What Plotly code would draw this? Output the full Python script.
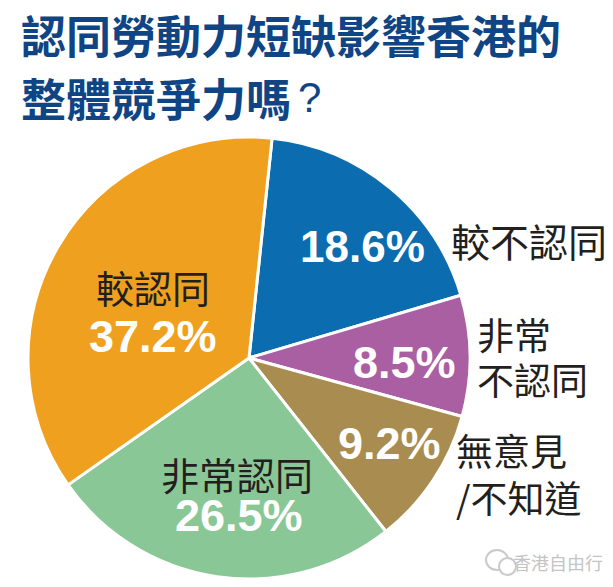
import plotly.graph_objects as go

categories = ["較不認同", "非常不認同", "無意見/不知道", "非常認同", "較認同"]
# printed percentages
values = [18.6, 8.5, 9.2, 26.5, 37.2]
# slice sizes, the drawn wedges differ a bit from the printed numbers
slice_sizes = [18.75, 8.85, 10.1, 25.9, 36.4]
colors = ["#0b6cb0", "#ab5fa3", "#a98c50", "#8ac796", "#f0a01f"]
title_line1 = "認同勞動力短缺影響香港的"
title_line2 = "整體競爭力嗎"
watermark = "香港自由行"

cjk = "Noto Sans CJK TC"
latin = "Liberation Sans"
# the page body keeps an 8px margin, so the figure starts at 8,8
PAGE = 8
W, H = 613 - PAGE, 587 - PAGE


def px_x(x):
    return (x - PAGE) / W


def px_y(y):
    return 1 - (y - PAGE) / H


# annotation placed in picture pixels (top-left origin)
def put(fig, x, y, text, size, color="#231f20", family=cjk, anchor="center"):
    if family == cjk:
        y -= 3  # CJK glyphs sit low in their line box
    fig.add_annotation(x=px_x(x), y=px_y(y), xref="paper", yref="paper", text=text,
                       showarrow=False, xanchor=anchor, yanchor="middle", align="left",
                       font=dict(size=size, color=color, family=family))


fig = go.Figure()
fig.add_trace(go.Pie(
    values=slice_sizes,
    labels=categories,
    sort=False,
    direction="clockwise",
    rotation=6,
    marker=dict(colors=colors, line=dict(color="white", width=3)),
    textinfo="none",
    domain=dict(x=[px_x(28), px_x(470)], y=[px_y(579), px_y(137)]),
    showlegend=False,
))

fig.update_layout(
    width=W,
    height=H,
    margin=dict(l=0, r=0, t=0, b=0),
    paper_bgcolor="white",
    font=dict(family=cjk),
)

# title
put(fig, 19, 38, f"<b>{title_line1}</b>", 45, "#0f4585", anchor="left")
put(fig, 19, 100, f"<b>{title_line2}</b>", 45, "#0f4585", anchor="left")
put(fig, 296, 97, "?", 42, "#0f4585", latin, anchor="left")

# percentages inside the slices
put(fig, 362, 246, f"<b>{values[0]}%</b>", 44, "white", latin)
put(fig, 405, 362, f"<b>{values[1]}%</b>", 45, "white", latin)
put(fig, 389, 443, f"<b>{values[2]}%</b>", 45, "white", latin)
put(fig, 239, 515, f"<b>{values[3]}%</b>", 45, "white", latin)
put(fig, 153, 336, f"<b>{values[4]}%</b>", 45, "white", latin)

# category names
put(fig, 153, 290, categories[4], 38)
put(fig, 237, 476, categories[3], 38)
put(fig, 449, 243, categories[0], 39, anchor="left")
put(fig, 475, 337, categories[1][:2], 37, anchor="left")
put(fig, 475, 382, categories[1][2:], 37, anchor="left")
put(fig, 454, 453, categories[2][:3], 37, anchor="left")
put(fig, 454, 500, categories[2][3:], 37, anchor="left")

# watermark
put(fig, 511, 565, watermark, 18, "#c4c4c4", anchor="left")
for x0, y0, x1, y1 in [(486, 550, 508, 570), (499, 558, 516, 575)]:
    fig.add_shape(type="circle", xref="paper", yref="paper",
                  x0=px_x(x0), x1=px_x(x1), y0=px_y(y1), y1=px_y(y0),
                  fillcolor="white", line=dict(color="#c9c9c9", width=2))

fig.write_html("out.html")
